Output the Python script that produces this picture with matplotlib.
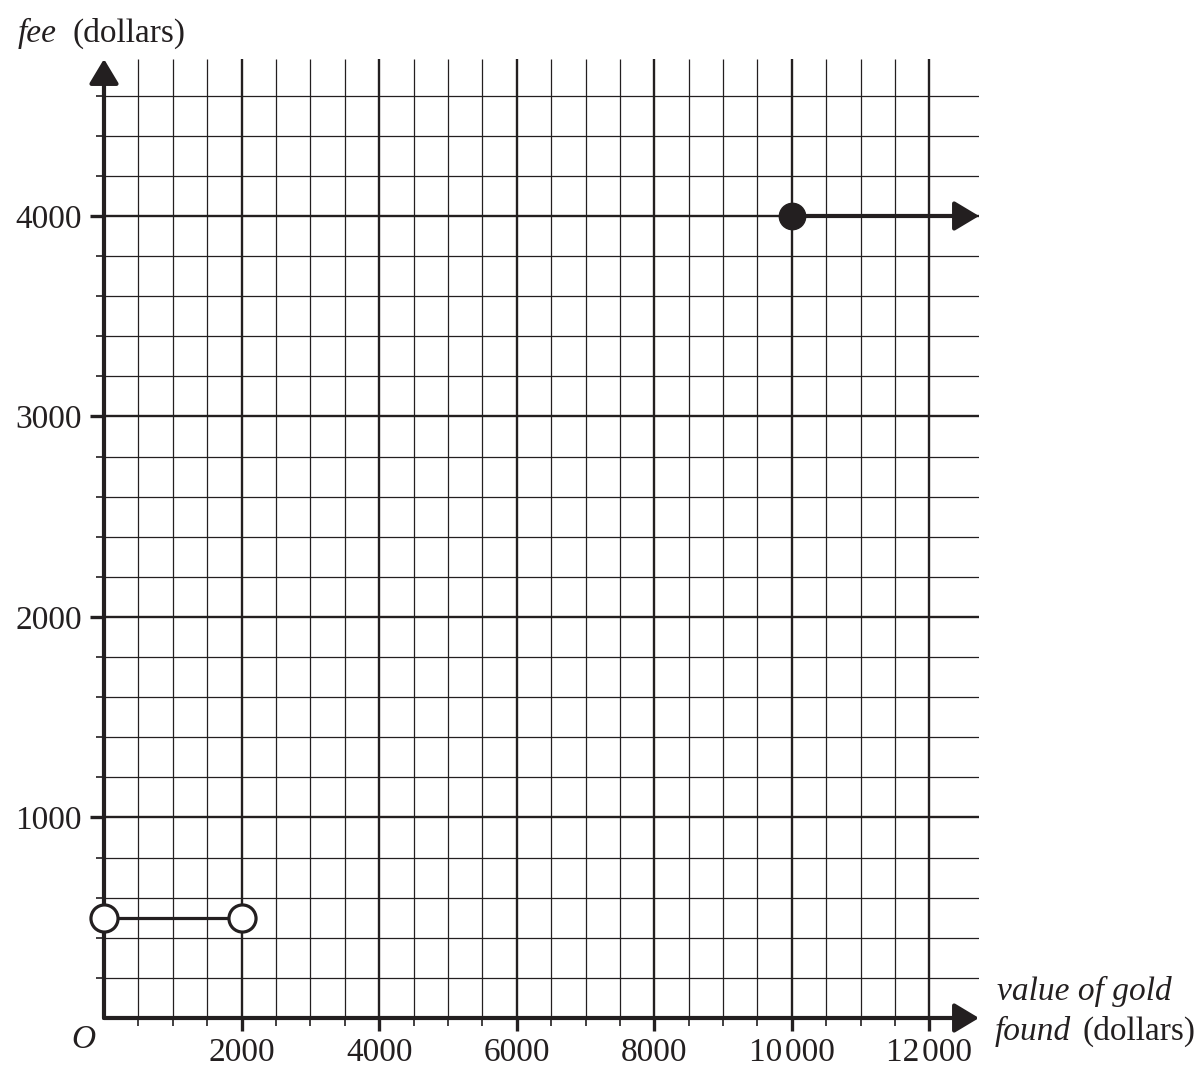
import matplotlib
matplotlib.use("Agg")
import matplotlib.pyplot as plt
import numpy as np

plt.rcParams['font.family'] = ['Liberation Serif', 'DejaVu Serif']
INK = '#231f20'

# ---- data ----
x_max = 12720
y_max = 4783
x_minor_grid = list(range(500, 12001, 500))
x_major_grid = [2000, 4000, 6000, 8000, 10000, 12000]
y_minor_grid = list(range(200, 4601, 200))
y_major_grid = [1000, 2000, 3000, 4000]
x_tick_labels = ['2000', '4000', '6000', '8000', '10\u200a000', '12\u200a000']
y_tick_labels = ['1000', '2000', '3000', '4000']

seg1_x = [0, 2000]
seg1_y = [500, 500]
seg2_start = (10000, 4000)

W, H = 1204, 1088
fig = plt.figure(figsize=(W / 100, H / 100), dpi=100)
ox, oy = 104, 1018
right, top = 979, 59
ax = fig.add_axes([ox / W, 1 - oy / H, (right - ox) / W, (oy - top) / H])
ax.set_xlim(0, x_max)
ax.set_ylim(0, y_max)
for s in ax.spines.values():
    s.set_visible(False)

# grid
ax.vlines([v for v in x_minor_grid if v not in x_major_grid], 0, y_max, color=INK, lw=0.9, zorder=1)
ax.vlines(x_major_grid, 0, y_max, color=INK, lw=1.7, zorder=1)
ax.hlines([v for v in y_minor_grid if v not in y_major_grid], 0, x_max, color=INK, lw=0.9, zorder=1)
ax.hlines(y_major_grid, 0, x_max, color=INK, lw=1.7, zorder=1)

# ticks
ax.set_xticks(x_major_grid)
ax.set_xticklabels(x_tick_labels)
ax.set_xticks(x_minor_grid, minor=True)
ax.set_yticks(y_major_grid)
ax.set_yticklabels(y_tick_labels)
ax.set_yticks(y_minor_grid, minor=True)
ax.tick_params(axis='x', which='major', direction='out', length=9, width=2.4, color=INK, labelsize=24, pad=5, labelcolor=INK)
ax.tick_params(axis='x', which='minor', direction='out', length=6, width=1.2, color=INK)
ax.tick_params(axis='y', which='major', direction='out', length=10, width=2.4, color=INK, labelsize=24, pad=6, labelcolor=INK)
ax.tick_params(axis='y', which='minor', direction='out', length=6, width=1.2, color=INK)

# axes with arrows
arrow_style = '-|>,head_length=1.5,head_width=0.9'
ax.annotate('', xy=(x_max, 0), xytext=(0, 0),
            arrowprops=dict(arrowstyle=arrow_style, lw=3, color=INK, shrinkA=0, shrinkB=0),
            annotation_clip=False, zorder=3)
ax.annotate('', xy=(0, y_max), xytext=(0, 0),
            arrowprops=dict(arrowstyle=arrow_style, lw=3, color=INK, shrinkA=0, shrinkB=0),
            annotation_clip=False, zorder=3)

# step function pieces
ax.plot(seg1_x, seg1_y, color=INK, lw=2.3, zorder=4, clip_on=False)
ax.plot(seg1_x, seg1_y, linestyle='none', marker='o', ms=19.5, mfc='white', mec=INK, mew=2.3,
        zorder=5, clip_on=False)
ax.annotate('', xy=(x_max, seg2_start[1]), xytext=seg2_start,
            arrowprops=dict(arrowstyle=arrow_style, lw=3, color=INK, shrinkA=0, shrinkB=0),
            annotation_clip=False, zorder=4)
ax.plot([seg2_start[0]], [seg2_start[1]], marker='o', ms=19, color=INK, zorder=5, clip_on=False)

# labels
def ft(x, y, s, size=24, **kw):
    fig.text(x / W, 1 - y / H, s, color=INK, fontsize=size, va='baseline', **kw)

ft(18, 42, 'fee', style='italic')
ft(72, 42, '(dollars)')
ft(997, 1000, 'value of gold', style='italic')
ft(995, 1040, 'found', style='italic')
ft(1083, 1040, '(dollars)')
ft(71, 1048, 'O', style='italic')

fig.savefig('out.png', dpi=100, facecolor='white')
